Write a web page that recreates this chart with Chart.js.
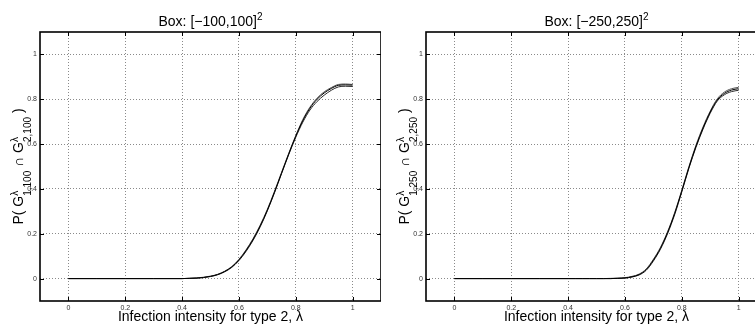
<!DOCTYPE html>
<html>
<head>
<meta charset="utf-8">
<script src="https://cdn.jsdelivr.net/npm/chart.js@4"></script>
<style>
html, body { margin: 0; padding: 0; background: #fff; overflow: hidden; width: 755px; height: 327px; position: relative; }
canvas { position: absolute; top: 0; }
#left { left: 0; }
#right { left: 386px; }
</style>
</head>
<body>
<canvas id="left" width="381" height="327"></canvas>
<canvas id="right" width="381" height="327"></canvas>
<script>
// infection intensity (x values shared by all curves)
var lambda = [0, 0.1, 0.2, 0.3, 0.4, 0.425, 0.45, 0.475, 0.5, 0.525, 0.55, 0.575, 0.6, 0.625,
  0.65, 0.675, 0.7, 0.725, 0.75, 0.775, 0.8, 0.825, 0.85, 0.875, 0.9, 0.925, 0.95, 0.975, 1];

// Box [-100,100]^2, three runs
var box100a = [0, 0, 0, 0, 0, 0.001, 0.002, 0.005, 0.010, 0.018, 0.032, 0.052, 0.083, 0.125,
  0.175, 0.235, 0.305, 0.385, 0.470, 0.555, 0.635, 0.705, 0.760, 0.800, 0.828, 0.848, 0.862, 0.864, 0.863];
var box100b = [0, 0, 0, 0, 0, 0.001, 0.002, 0.004, 0.009, 0.017, 0.030, 0.050, 0.080, 0.121,
  0.171, 0.231, 0.302, 0.382, 0.468, 0.552, 0.630, 0.698, 0.752, 0.790, 0.818, 0.840, 0.855, 0.858, 0.857];
var box100c = [0, 0, 0, 0, 0, 0.001, 0.003, 0.006, 0.011, 0.019, 0.033, 0.054, 0.086, 0.128,
  0.179, 0.239, 0.309, 0.389, 0.474, 0.558, 0.638, 0.710, 0.765, 0.805, 0.833, 0.852, 0.866, 0.868, 0.866];

// Box [-250,250]^2, three runs
var box250a = [0, 0, 0, 0, 0, 0, 0, 0, 0, 0, 0, 0.001, 0.003, 0.008,
  0.018, 0.040, 0.082, 0.135, 0.205, 0.290, 0.390, 0.495, 0.590, 0.672, 0.742, 0.797, 0.826, 0.841, 0.847];
var box250b = [0, 0, 0, 0, 0, 0, 0, 0, 0, 0, 0, 0.001, 0.002, 0.007,
  0.016, 0.037, 0.078, 0.131, 0.200, 0.285, 0.386, 0.491, 0.585, 0.667, 0.737, 0.792, 0.820, 0.834, 0.840];
var box250c = [0, 0, 0, 0, 0, 0, 0, 0, 0, 0, 0.001, 0.002, 0.004, 0.010,
  0.020, 0.043, 0.086, 0.139, 0.209, 0.294, 0.394, 0.499, 0.595, 0.677, 0.747, 0.802, 0.832, 0.847, 0.853];

var xTicks = [0, 0.2, 0.4, 0.6, 0.8, 1];
var xTickLabels = ['0', '0.2', '0.4', '0.6', '0.8', '1'];
var yTicks = [0, 0.2, 0.4, 0.6, 0.8, 1];
var yTickLabels = ['0', '0.2', '0.4', '0.6', '0.8', '1'];

var lineColors = ['#000', '#2a2a2a', '#555'];
var FONT = '"Liberation Sans", Arial, Helvetica, sans-serif';

// lay out text with sup/sub parts; a sup and sub that follow each other share one position
function layoutRich(ctx, parts, size, small, supOff, subOff) {
  var items = [], x = 0, i = 0;
  while (i < parts.length) {
    var p = parts[i];
    if (p[0] === 'n') {
      ctx.font = size + 'px ' + FONT;
      items.push({ t: p[1], x: x, dy: 0, f: size });
      x += ctx.measureText(p[1]).width;
      i++;
    } else {
      var maxw = 0;
      while (i < parts.length && parts[i][0] !== 'n') {
        var q = parts[i];
        ctx.font = small + 'px ' + FONT;
        items.push({ t: q[1], x: x, dy: q[0] === 'sup' ? -supOff : subOff, f: small });
        maxw = Math.max(maxw, ctx.measureText(q[1]).width);
        i++;
      }
      x += maxw;
    }
  }
  return { items: items, width: x };
}

function drawRich(ctx, lay, x0, y0) {
  ctx.textAlign = 'left';
  ctx.textBaseline = 'alphabetic';
  lay.items.forEach(function (it) {
    ctx.font = it.f + 'px ' + FONT;
    ctx.fillText(it.t, x0 + it.x, y0 + it.dy);
  });
}

var matlabFrame = {
  id: 'matlabFrame',
  afterDraw: function (chart, args, opts) {
    var ctx = chart.ctx, a = chart.chartArea;
    var xs = chart.scales.x, ys = chart.scales.y;
    ctx.save();
    ctx.strokeStyle = '#000';
    // inward tick marks
    ctx.lineWidth = 1;
    ctx.beginPath();
    xTicks.forEach(function (v) {
      var px = Math.round(xs.getPixelForValue(v)) + 0.5;
      ctx.moveTo(px, a.bottom); ctx.lineTo(px, a.bottom - 4);
      ctx.moveTo(px, a.top); ctx.lineTo(px, a.top + 4);
    });
    yTicks.forEach(function (v) {
      var py = Math.round(ys.getPixelForValue(v)) + 0.5;
      ctx.moveTo(a.left, py); ctx.lineTo(a.left + 4, py);
      ctx.moveTo(a.right, py); ctx.lineTo(a.right - 4, py);
    });
    ctx.stroke();
    // box
    ctx.lineWidth = 1.6;
    ctx.strokeRect(a.left, a.top, a.right - a.left, a.bottom - a.top);

    ctx.fillStyle = '#000';
    var cx = (a.left + a.right) / 2;
    // title
    var t = layoutRich(ctx, [['n', 'Box: [\u2212' + opts.box + ',' + opts.box + ']'], ['sup', '2']], 14, 10, 6, 0);
    drawRich(ctx, t, cx - t.width / 2, 26);
    // x label
    var xl = layoutRich(ctx, [['n', 'Infection intensity for type 2, \u03bb']], 14, 10, 0, 0);
    drawRich(ctx, xl, cx - xl.width / 2, 321);
    // y label (rotated)
    var yl = layoutRich(ctx, [['n', 'P( G'], ['sup', '\u03bb'], ['sub', '1,' + opts.box],
      ['n', ' \u2229 G'], ['sup', '\u03bb'], ['sub', '2,' + opts.box], ['n', ' )']], 14, 10, 5, 8);
    ctx.translate(a.left - 17, (a.top + a.bottom) / 2);
    ctx.rotate(-Math.PI / 2);
    drawRich(ctx, yl, -yl.width / 2, 0);
    ctx.restore();
  }
};

function makeChart(id, box, series) {
  var datasets = series.map(function (vals, k) {
    return {
      data: lambda.map(function (x, i) { return { x: x, y: vals[i] }; }),
      borderColor: lineColors[k],
      borderWidth: 1,
      pointRadius: 0,
      fill: false,
      cubicInterpolationMode: 'monotone'
    };
  });
  var tickFont = { family: FONT, size: 7 };
  return new Chart(document.getElementById(id), {
    type: 'line',
    data: { datasets: datasets },
    plugins: [matlabFrame],
    options: {
      responsive: false,
      animation: false,
      events: [],
      layout: { padding: { top: 32, right: 0, left: 0, bottom: 0 } },
      plugins: {
        legend: { display: false },
        tooltip: { enabled: false },
        matlabFrame: { box: box }
      },
      scales: {
        x: {
          type: 'linear', min: -0.1, max: 1.1,
          afterBuildTicks: function (s) { s.ticks = xTicks.map(function (v) { return { value: v }; }); },
          afterFit: function (s) { s.height = 26; },
          grid: { color: '#8a8a8a', lineWidth: 1, drawTicks: false },
          border: { display: false, dash: [1, 2] },
          ticks: {
            autoSkip: false, maxRotation: 0, padding: 3, color: '#333', font: tickFont,
            callback: function (v, i) { return xTickLabels[i]; }
          }
        },
        y: {
          type: 'linear', min: -0.1, max: 1.1,
          afterBuildTicks: function (s) { s.ticks = yTicks.map(function (v) { return { value: v }; }); },
          afterFit: function (s) { s.width = 40; },
          grid: { color: '#8a8a8a', lineWidth: 1, drawTicks: false },
          border: { display: false, dash: [1, 2] },
          ticks: {
            autoSkip: false, padding: 3, color: '#333', font: tickFont,
            callback: function (v, i) { return yTickLabels[i]; }
          }
        }
      }
    }
  });
}

makeChart('left', '100', [box100a, box100b, box100c]);
makeChart('right', '250', [box250a, box250b, box250c]);
</script>
</body>
</html>
